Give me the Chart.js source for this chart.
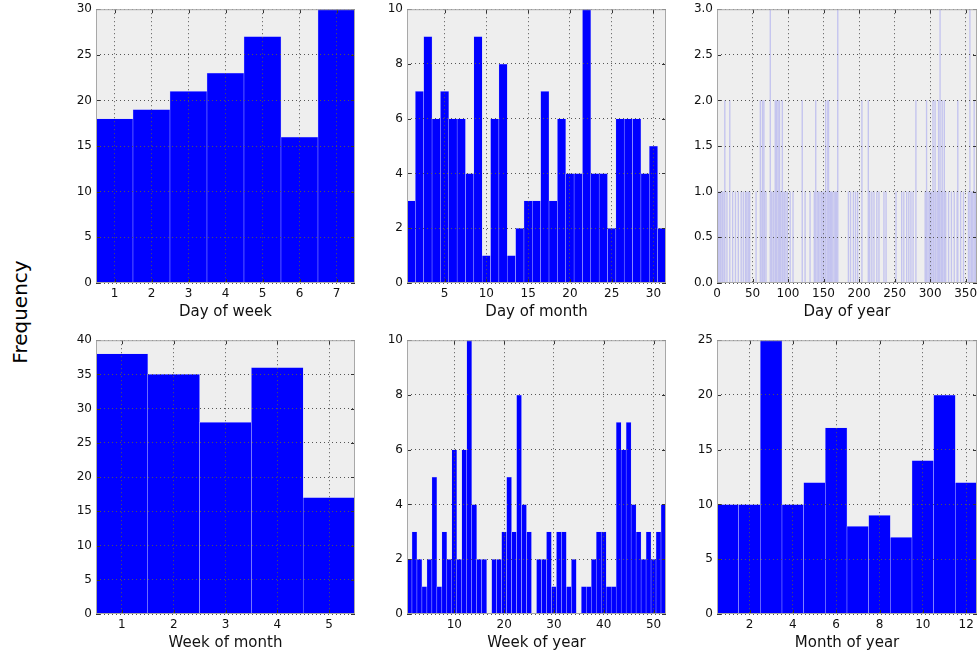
<!DOCTYPE html>
<html><head><meta charset="utf-8">
<script src="https://cdn.jsdelivr.net/npm/chart.js@4.4.1/dist/chart.umd.min.js"></script>
<style>
html,body{margin:0;padding:0;background:#fff;width:979px;height:658px;overflow:hidden;position:relative;}
.panel{position:absolute;}
#ylab{position:absolute;left:20px;top:312px;transform:translate(-50%,-50%) rotate(-90deg);font:20px "DejaVu Sans";color:#000;white-space:nowrap;}
</style></head><body>
<div id="ylab">Frequency</div>
<script>
// ---- data ----
const dowCats = [1,2,3,4,5,6,7];
const dowValues = [18,19,21,23,27,16,30];
const dowTicks = [1,2,3,4,5,6,7];
const dowYTicks = [0,5,10,15,20,25,30];

const domCats = [1,2,3,4,5,6,7,8,9,10,11,12,13,14,15,16,17,18,19,20,21,22,23,24,25,26,27,28,29,30,31];
const domValues = [3,7,9,6,7,6,6,4,9,1,6,8,1,2,3,3,7,3,6,4,4,10,4,4,2,6,6,6,4,5,2];
const domTicks = [5,10,15,20,25,30];
const domYTicks = [0,2,4,6,8,10];

const doyDays = [
 1,2,4,5,7,8,10,11,14,18,22,26,30,34,37,40,42,44,46,
 55,61,62,64,66,67,69,75,77,79,80,82,83,84,86,87,88,89,90,92,93,95,97,99,103,107,
 120,124,131,137,139,141,143,145,147,149,150,152,153,155,156,157,158,160,161,163,165,167,168,170,
 185,188,192,195,198,204,213,215,218,221,225,228,235,238,252,260,263,267,270,273,276,280,
 293,294,295,297,299,300,302,304,305,307,308,310,312,313,314,316,317,318,320,322,326,330,334,338,339,343,347,354,356,358,360,362,364];
const doyValues = [
 1,1,1,1,1,1,1,2,1,2,1,1,1,1,1,1,1,1,1,
 1,2,1,2,2,1,1,3,1,1,1,2,1,2,2,1,2,1,1,2,1,1,1,1,1,1,
 2,1,1,1,2,1,1,1,1,1,1,1,2,1,2,2,1,1,1,1,1,1,1,3,
 1,1,1,1,1,2,2,1,1,1,1,1,1,1,1,1,1,1,1,1,1,2,
 1,1,2,1,1,1,1,2,1,2,1,1,2,1,3,1,2,1,2,1,1,1,1,1,2,1,1,1,3,1,1,2,1];
const doyTicks = [0,50,100,150,200,250,300,350];
const doyYTicks = [0,0.5,1,1.5,2,2.5,3];

const womCats = [1,2,3,4,5];
const womValues = [38,35,28,36,17];
const womTicks = [1,2,3,4,5];
const womYTicks = [0,5,10,15,20,25,30,35,40];

const woyCats = [1,2,3,4,5,6,7,8,9,10,11,12,13,14,15,16,17,18,19,20,21,22,23,24,25,26,27,28,29,30,31,32,33,34,35,36,37,38,39,40,41,42,43,44,45,46,47,48,49,50,51,52];
const woyValues = [2,3,2,1,2,5,1,3,2,6,2,6,10,4,2,2,0,2,2,3,5,3,8,4,3,0,2,2,3,1,3,3,1,2,0,1,1,2,3,3,1,1,7,6,7,4,3,2,3,2,3,4];
const woyTicks = [10,20,30,40,50];
const woyYTicks = [0,2,4,6,8,10];

const moyCats = [1,2,3,4,5,6,7,8,9,10,11,12];
const moyValues = [10,10,25,10,12,17,8,9,7,14,20,12];
const moyTicks = [2,4,6,8,10,12];
const moyYTicks = [0,5,10,15,20,25];

// ---- layout ----
const YW = 45, PT = 10, PR = 10, XH = 40;
const FONT = 'DejaVu Sans';

const framePlugin = {
  id: 'frame',
  beforeDraw(chart) {
    const a = chart.chartArea, c = chart.ctx;
    c.save(); c.fillStyle = '#eeeeee';
    c.fillRect(a.left, a.top, a.right - a.left, a.bottom - a.top);
    c.restore();
  },
  afterDraw(chart) {
    const a = chart.chartArea, c = chart.ctx;
    const xs = chart.scales.x, ys = chart.scales.y;
    c.save();
    c.strokeStyle = '#333'; c.lineWidth = 1;
    c.beginPath();
    xs.ticks.forEach(t => {
      const p = Math.round(xs.getPixelForValue(t.value)) + 0.5;
      c.moveTo(p, a.bottom); c.lineTo(p, a.bottom - 4);
      c.moveTo(p, a.top); c.lineTo(p, a.top + 4);
    });
    ys.ticks.forEach(t => {
      const p = Math.round(ys.getPixelForValue(t.value)) + 0.5;
      c.moveTo(a.left, p); c.lineTo(a.left + 4, p);
      c.moveTo(a.right, p); c.lineTo(a.right - 4, p);
    });
    c.stroke();
    c.strokeStyle = '#a8a8a8';
    c.strokeRect(a.left + 0.5, a.top + 0.5, a.right - a.left - 1, a.bottom - a.top - 1);
    c.restore();
  }
};

function makePanel(plot, cats, vals, xMin, xMax, xTicks, yTicks, title, thin, yFmt) {
  const div = document.createElement('div');
  div.className = 'panel';
  const w = YW + plot.w + PR, h = PT + plot.h + XH;
  div.style.left = (plot.l - YW) + 'px';
  div.style.top = (plot.t - PT) + 'px';
  div.style.width = w + 'px'; div.style.height = h + 'px';
  const cv = document.createElement('canvas');
  cv.width = w; cv.height = h;
  cv.style.width = w + 'px'; cv.style.height = h + 'px';
  div.appendChild(cv);
  document.body.appendChild(div);
  const pts = cats.map((c, i) => ({x: c, y: vals[i]}));
  new Chart(cv.getContext('2d'), {
    type: 'bar',
    data: { datasets: [{
      data: pts,
      backgroundColor: thin ? '#c4c4ef' : '#0000ff',
      borderColor: thin ? '#c4c4ef' : '#c8c8ff',
      borderWidth: thin ? 0 : 0.5,
      borderSkipped: 'start',
      barPercentage: 1, categoryPercentage: 1, grouped: false
    }]},
    options: {
      responsive: false, animation: false, devicePixelRatio: 1,
      layout: { padding: { top: PT, right: PR, left: 0, bottom: 0 } },
      plugins: { legend: { display: false }, tooltip: { enabled: false } },
      scales: {
        x: {
          type: 'linear', min: xMin, max: xMax, offset: false,
          afterBuildTicks: s => { s.ticks = xTicks.map(v => ({ value: v })); },
          afterFit: s => { s.height = XH; },
          ticks: { autoSkip: false, maxRotation: 0, padding: 4, color: '#111',
                   font: { family: FONT, size: 12 }, callback: v => String(v) },
          grid: { color: '#555', lineWidth: 1, drawTicks: false, z: 1, offset: false },
          border: { display: false, dash: [1, 3] },
          title: { display: true, text: title, color: '#111',
                   font: { family: FONT, size: 15 }, padding: { top: 0, bottom: 2 } }
        },
        y: {
          type: 'linear', min: yTicks[0], max: yTicks[yTicks.length - 1],
          afterBuildTicks: s => { s.ticks = yTicks.map(v => ({ value: v })); },
          afterFit: s => { s.width = YW; },
          ticks: { autoSkip: false, padding: 4, color: '#111',
                   font: { family: FONT, size: 12 }, callback: yFmt },
          grid: { color: '#555', lineWidth: 1, drawTicks: false, z: 1 },
          border: { display: false, dash: [1, 3] }
        }
      }
    },
    plugins: [framePlugin]
  });
}

const intFmt = v => String(v);
const decFmt = v => Number(v).toFixed(1);
const cols = [{l: 96, w: 259}, {l: 407, w: 259}, {l: 717, w: 260}];
const rows = [{t: 8, h: 275}, {t: 339, h: 275}];
const P = (c, r) => ({l: cols[c].l, w: cols[c].w, t: rows[r].t, h: rows[r].h});

makePanel(P(0,0), dowCats, dowValues, 0.5, 7.5, dowTicks, dowYTicks, 'Day of week', false, intFmt);
makePanel(P(1,0), domCats, domValues, 0.5, 31.5, domTicks, domYTicks, 'Day of month', false, intFmt);
makePanel(P(2,0), doyDays, doyValues, 0, 366, doyTicks, doyYTicks, 'Day of year', true, decFmt);
makePanel(P(0,1), womCats, womValues, 0.5, 5.5, womTicks, womYTicks, 'Week of month', false, intFmt);
makePanel(P(1,1), woyCats, woyValues, 0.5, 52.5, woyTicks, woyYTicks, 'Week of year', false, intFmt);
makePanel(P(2,1), moyCats, moyValues, 0.5, 12.5, moyTicks, moyYTicks, 'Month of year', false, intFmt);
</script>
</body></html>
